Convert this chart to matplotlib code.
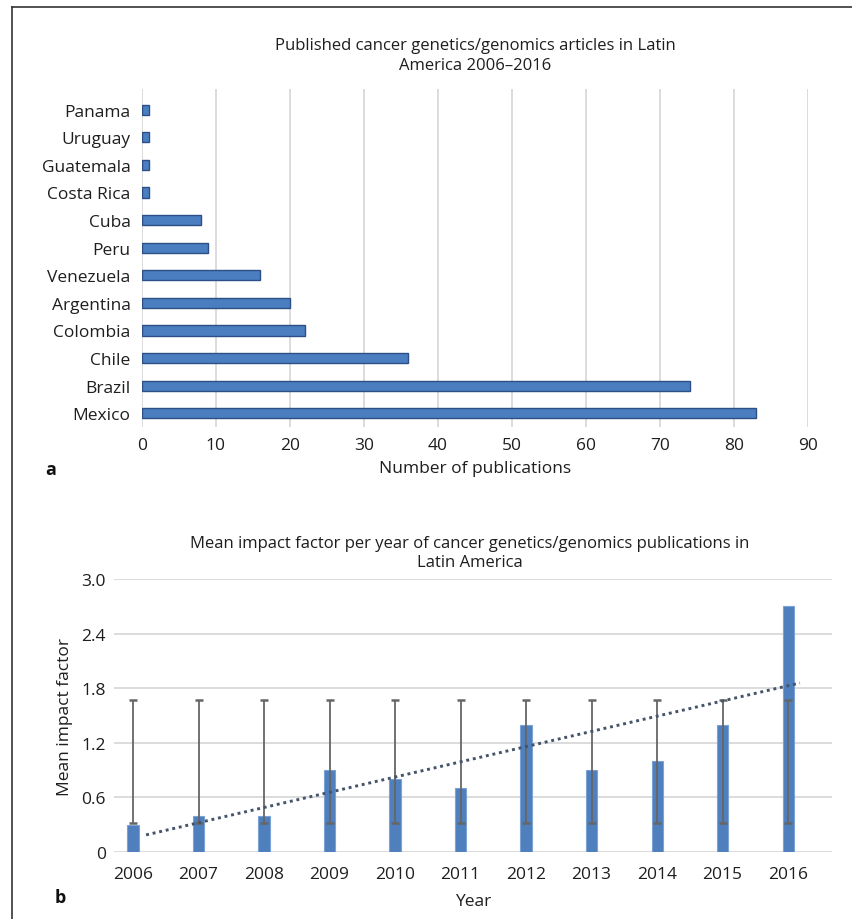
import matplotlib
matplotlib.use("Agg")
import matplotlib.pyplot as plt
from matplotlib.lines import Line2D
import numpy as np

plt.rcParams['font.family'] = ['Open Sans', 'DejaVu Sans']

# Panel a data
countries = ['Mexico', 'Brazil', 'Chile', 'Colombia', 'Argentina', 'Venezuela',
             'Peru', 'Cuba', 'Costa Rica', 'Guatemala', 'Uruguay', 'Panama']
n_pubs = [83, 74, 36, 22, 20, 16, 9, 8, 1, 1, 1, 1]
pub_ticks = [0, 10, 20, 30, 40, 50, 60, 70, 80, 90]

# Panel b data
years = ['2006', '2007', '2008', '2009', '2010', '2011',
         '2012', '2013', '2014', '2015', '2016']
mean_if = [0.3, 0.4, 0.4, 0.9, 0.8, 0.7, 1.4, 0.9, 1.0, 1.4, 2.7]
err_low = [0.32] * 11
err_high = [1.67] * 11
if_ticks = [0, 0.6, 1.2, 1.8, 2.4, 3.0]
if_ticklabels = ['0', '0.6', '1.2', '1.8', '2.4', '3.0']

W, H = 853, 920
grid_c = '#dcdcdc'
text_c = '#1e1e1e'

fig = plt.figure(figsize=(W / 100, H / 100), dpi=100)


def fx(px):
    return px / W


def fy(py):
    return 1 - py / H


# frame (top and left lines)
fig.add_artist(Line2D([fx(12), 1], [fy(8), fy(8)], color='#333333', lw=1.2))
fig.add_artist(Line2D([fx(12), fx(12)], [0, fy(8)], color='#333333', lw=1.2))

# ---------------- panel a ----------------
ax1 = fig.add_axes([fx(141.7), fy(428), fx(808) - fx(141.7), fy(90) - fy(428)])
ypos = np.arange(len(countries))
ax1.barh(ypos, n_pubs, height=0.37, color='#4b7ec0', edgecolor='#2c4f86',
         linewidth=1.0, zorder=3)
ax1.set_xlim(0, 90)
ax1.set_ylim(-0.5, 11.75)
ax1.set_yticks(ypos)
ax1.set_yticklabels(countries, fontsize=12.5, color=text_c)
ax1.set_xticks(pub_ticks)
ax1.set_xticklabels([str(t) for t in pub_ticks], fontsize=12.5, color=text_c)
ax1.tick_params(length=0)
ax1.tick_params(axis='y', pad=8)
ax1.tick_params(axis='x', pad=7)
ax1.xaxis.grid(True, color=grid_c, lw=1.4, zorder=0)
for s in ax1.spines.values():
    s.set_visible(False)
ax1.set_xlabel('Number of publications', fontsize=12.5, color=text_c, labelpad=5)
fig.text(fx(475), fy(56), 'Published cancer genetics/genomics articles in Latin\nAmerica 2006\u20132016',
         ha='center', va='center', fontsize=12, color=text_c, linespacing=1.25)
fig.text(fx(51), fy(470), 'a', ha='center', va='center', fontsize=13,
         fontweight='bold', color='#111111')

# ---------------- panel b ----------------
ax2 = fig.add_axes([fx(114), fy(853), fx(832) - fx(114), fy(580) - fy(853)])
xpos = np.arange(len(years))
ax2.bar(xpos, mean_if, width=0.17, color='#4f7fbd', edgecolor='#7aa2d4',
        linewidth=0.8, zorder=3)
lo = np.array(err_low)
hi = np.array(err_high)
mid = (lo + hi) / 2
ax2.errorbar(xpos, mid, yerr=(hi - lo) / 2, fmt='none', ecolor='#666666', elinewidth=1.3,
             capsize=2.6, capthick=1.8, zorder=4)
# linear trendline through the means
coef = np.polyfit(xpos, mean_if, 1)
tx = np.array([0.2, 10.18])
ax2.plot(tx, np.polyval(coef, tx), linestyle=(0, (1, 1.3)), color='#44546a',
         lw=2.1, zorder=5)
ax2.set_xlim(-0.29, 10.67)
ax2.set_ylim(0, 3.0)
ax2.set_xticks(xpos)
ax2.set_xticklabels(years, fontsize=12.5, color=text_c)
ax2.set_yticks(if_ticks)
ax2.set_yticklabels(if_ticklabels, fontsize=12.5, color=text_c)
ax2.tick_params(length=0)
ax2.tick_params(axis='y', pad=6)
ax2.tick_params(axis='x', pad=10)
ax2.yaxis.grid(True, color=grid_c, lw=1.4, zorder=0)
for s in ax2.spines.values():
    s.set_visible(False)
ax2.set_xlabel('Year', fontsize=12.5, color=text_c, labelpad=8)
ax2.set_ylabel('Mean impact factor', fontsize=12.5, color=text_c, labelpad=6)
fig.text(fx(470), fy(554), 'Mean impact factor per year of cancer genetics/genomics publications in\nLatin America',
         ha='center', va='center', fontsize=12, color=text_c, linespacing=1.25)
fig.text(fx(60), fy(898), 'b', ha='center', va='center', fontsize=13,
         fontweight='bold', color='#111111')

fig.savefig('out.png', dpi=100, facecolor='white')
